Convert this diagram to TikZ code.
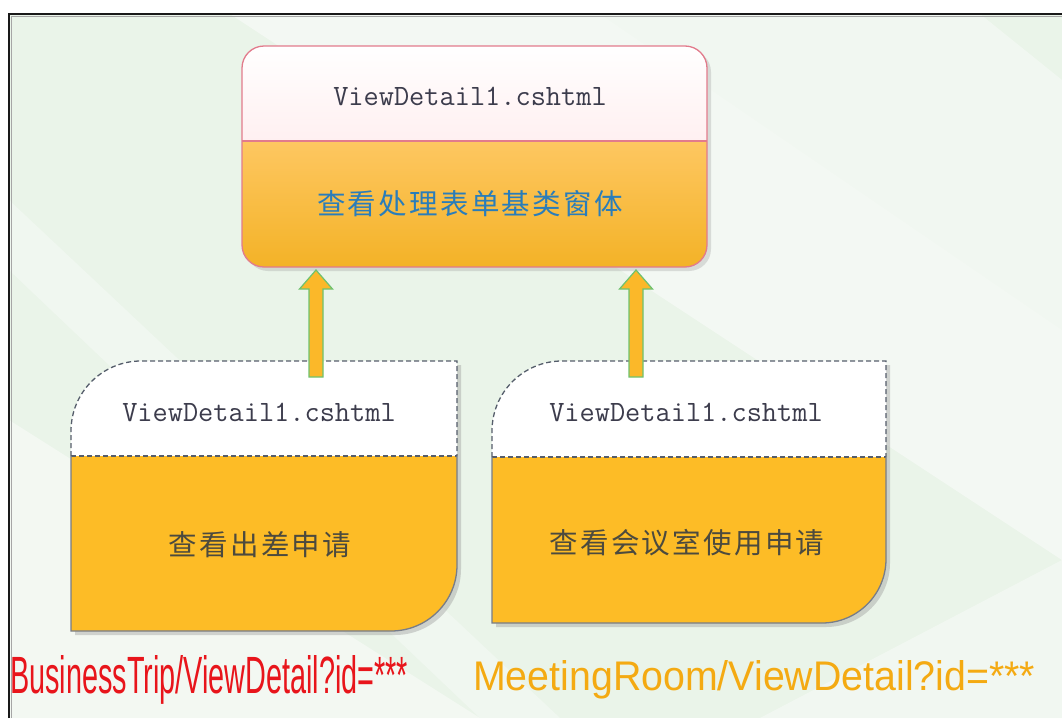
\documentclass[tikz,border=0pt]{standalone}
\usepackage{fontspec}
\usepackage{graphicx}
\newfontfamily\cjk{Noto Sans CJK SC}
\newfontfamily\labelfont{Liberation Sans}
\usetikzlibrary{calc}

\definecolor{bggreen}{HTML}{EAF4E9}
\definecolor{bglight}{HTML}{F7FAF7}
\definecolor{baseborder}{HTML}{E27B8C}
\definecolor{basetop}{HTML}{FFF0F1}
\definecolor{baseorangeA}{HTML}{FEC761}
\definecolor{baseorangeB}{HTML}{F3B226}
\definecolor{cardorange}{HTML}{FDBC26}
\definecolor{cardborder}{HTML}{555D6B}
\definecolor{arrowfill}{HTML}{FBB829}
\definecolor{arrowedge}{HTML}{6EC26F}
\definecolor{monotext}{HTML}{3C3C4C}
\definecolor{basecjk}{HTML}{2A7DBA}
\definecolor{cardcjk}{HTML}{4C4A3E}
\definecolor{tripred}{HTML}{E8151B}
\definecolor{roomorange}{HTML}{F4AA12}

\tikzset{
  monolabel/.style={font=\ttfamily\fontsize{29.5}{30}\selectfont, text=monotext, inner sep=0pt},
  cjklabel/.style={font=\cjk\fontsize{28.5}{30}\selectfont\addfontfeature{LetterSpace=8}, inner sep=0pt},
  cardshadow/.style={fill=black!45, opacity=0.35},
  dashedge/.style={draw=cardborder, line width=1.3pt, dash pattern=on 5pt off 3pt},
  solidedge/.style={draw=cardborder!80, line width=1.3pt},
  blockarrow/.style={fill=arrowfill, draw=arrowedge, line width=1.2pt, line join=miter},
  urllabel/.style={anchor=base west, inner sep=0pt},
}

% card with a rounded top-left and bottom-right corner, split by a dashed line
\newcommand\cardbox[7]{% x0, y0, ydiv, x1, y1, r-top-left, r-bottom-right
  \pgfmathsetmacro\ka{0.5523*#6}
  \pgfmathsetmacro\kb{0.5523*#7}
  \fill[cardshadow] ($(#1,#3)+(4,4)$) -- ($(#1,#2+#6)+(4,4)$)
     .. controls ($(#1,#2+#6-\ka)+(4,4)$) and ($(#1+#6-\ka,#2)+(4,4)$) .. ($(#1+#6,#2)+(4,4)$)
     -- ($(#4,#2)+(4,4)$) -- ($(#4,#5-#7)+(4,4)$)
     .. controls ($(#4,#5-#7+\kb)+(4,4)$) and ($(#4-#7+\kb,#5)+(4,4)$) .. ($(#4-#7,#5)+(4,4)$)
     -- ($(#1,#5)+(4,4)$) -- cycle;
  \fill[white] (#1,#3) -- (#1,#2+#6) .. controls (#1,#2+#6-\ka) and (#1+#6-\ka,#2) .. (#1+#6,#2)
     -- (#4,#2) -- (#4,#3) -- cycle;
  \fill[cardorange] (#1,#3) -- (#4,#3) -- (#4,#5-#7)
     .. controls (#4,#5-#7+\kb) and (#4-#7+\kb,#5) .. (#4-#7,#5) -- (#1,#5) -- cycle;
  \draw[dashedge] (#1,#3) -- (#1,#2+#6) .. controls (#1,#2+#6-\ka) and (#1+#6-\ka,#2) .. (#1+#6,#2)
     -- (#4,#2) -- (#4,#3);
  \draw[dashedge] (#1,#3) -- (#4,#3);
  \draw[solidedge] (#4,#3) -- (#4,#5-#7)
     .. controls (#4,#5-#7+\kb) and (#4-#7+\kb,#5) .. (#4-#7,#5) -- (#1,#5) -- (#1,#3);
}

% block arrow from a base coordinate up to a tip coordinate
\newcommand\uparrowblock[2]{%
  \path[blockarrow] let \p1=(#1), \p2=(#2) in
    (\x1-7pt,\y1) -- (\x1-7pt,\y2-19pt) -- (\x1-16.5pt,\y2-19pt) -- (\x2,\y2)
    -- (\x1+16.5pt,\y2-19pt) -- (\x1+7pt,\y2-19pt) -- (\x1+7pt,\y1) -- cycle;
}

\begin{document}
\begin{tikzpicture}[x=1pt,y=-1pt]
  \useasboundingbox (0,0) rectangle (1062,718);
  \fill[white] (0,0) rectangle (1062,718);

  % backdrop with soft diagonal bands
  \fill[bggreen] (9,14) rectangle (1062,718);
  \fill[bglight, opacity=0.75] (230,14) -- (600,14) -- (1062,330) -- (1062,560) -- cycle;
  \fill[bglight, opacity=0.6] (600,14) -- (980,14) -- (1062,80) -- (1062,330) -- cycle;
  \fill[bglight, opacity=0.7] (9,420) -- (9,718) -- (480,718) -- cycle;
  \fill[bglight, opacity=0.5] (9,270) -- (480,718) -- (560,718) -- (9,200) -- cycle;
  \fill[bglight, opacity=0.6] (760,718) -- (1062,560) -- (1062,718) -- cycle;

  % frame
  \draw[black!90, line width=2pt] (9,718) -- (9,14) -- (1062,14);
  \draw[black!35, line width=1pt] (11,718) -- (11,16) -- (1062,16);

  % base form
  \fill[black!40, opacity=0.3, rounded corners=22pt] (246,50) rectangle (711,271);
  \begin{scope}
    \clip[rounded corners=22pt] (242,46) rectangle (707,267);
    \shade[top color=white, bottom color=basetop] (240,44) rectangle (709,141);
    \shade[top color=baseorangeA, bottom color=baseorangeB] (240,141) rectangle (709,269);
  \end{scope}
  \draw[baseborder, line width=1.3pt] (242,141) -- (707,141);
  \draw[baseborder, line width=1.3pt, rounded corners=22pt] (242,46) rectangle (707,267);
  \node[monolabel, anchor=base] (basefile) at (470,105) {ViewDetail1.cshtml};
  \node[cjklabel, text=basecjk] (basename) at (470,204) {查看处理表单基类窗体};
  \coordinate (baseL) at (316,270);
  \coordinate (baseR) at (636,270);

  % derived forms
  \cardbox{71}{361}{456}{457}{631}{70}{66}
  \node[monolabel, anchor=base] (tripfile) at (259,421) {ViewDetail1.cshtml};
  \node[cjklabel, text=cardcjk] (tripname) at (260,545) {查看出差申请};
  \coordinate (tripTop) at (316,377);

  \cardbox{492}{361}{457}{886}{623}{70}{64}
  \node[monolabel, anchor=base] (roomfile) at (686,421) {ViewDetail1.cshtml};
  \node[cjklabel, text=cardcjk] (roomname) at (687,543) {查看会议室使用申请};
  \coordinate (roomTop) at (636,377);

  % inheritance arrows
  \uparrowblock{tripTop}{baseL}
  \uparrowblock{roomTop}{baseR}

  % request urls
  \node[urllabel, text=tripred] (tripurl) at (10,693)
    {\resizebox{398pt}{38pt}{\labelfont BusinessTrip/ViewDetail?id=***}};
  \node[urllabel, text=roomorange] (roomurl) at (473,690)
    {\resizebox{562pt}{30pt}{\labelfont MeetingRoom/ViewDetail?id=***}};
\end{tikzpicture}
\end{document}
